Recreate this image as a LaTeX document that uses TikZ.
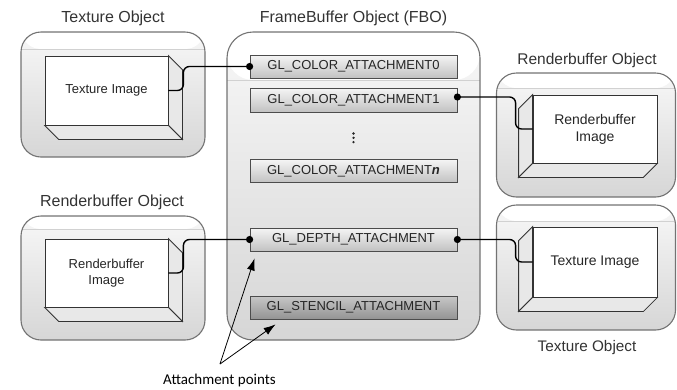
\documentclass[tikz,border=0pt]{standalone}
\usepackage{fontspec}
\setmainfont{Liberation Sans}
\newfontfamily\calfont{Carlito}
\usetikzlibrary{arrows.meta,calc}
\begin{document}
\begin{tikzpicture}[x=1pt,y=-1pt,
  container/.style={draw=black!55, line width=1.1pt, rounded corners=#1,
    top color=black!3, bottom color=black!16, inner sep=0pt},
  glossy/.style={path picture={
    \fill[white] (path picture bounding box.north west) rectangle ([yshift=-#1]path picture bounding box.north east);
    \draw[black!18, line width=0.6pt] ([yshift=-#1]path picture bounding box.north west) -- ([yshift=-#1]path picture bounding box.north east);}},
  title/.style={anchor=base, text=black!80, font=\fontsize{16}{19}\selectfont, inner sep=0pt},
  face/.style={draw=black!80, line width=0.8pt, fill=white, align=center, text=black!85, inner sep=0pt},
  side/.style={draw=black!80, line width=0.8pt, fill=black!9},
  attbox/.style={draw=black!70, line width=0.8pt, top color=black!4, bottom color=black!24,
    minimum width=207pt, minimum height=23pt, inner sep=0pt, text=black!85,
    font=\fontsize{13}{15}\selectfont},
  conn/.style={line width=1.4pt, rounded corners=6pt},
  dot/.style={fill=black},
  pointer/.style={line width=0.8pt, -{Latex[length=12pt,width=8pt]}}
]
\useasboundingbox (0,0) rectangle (677,389);

% containers
\node[container=20pt, glossy=17pt, minimum width=184pt, minimum height=125pt] (texobjL) at (113,94.5) {};
\node[container=20pt, glossy=13pt, minimum width=184pt, minimum height=124pt] (rbobjL) at (113,278) {};
\node[container=26pt, glossy=48pt, minimum width=253pt, minimum height=308pt] (fbo) at (353.5,186) {};
\node[container=20pt, glossy=15pt, minimum width=179pt, minimum height=124pt] (rbobjR) at (586,135) {};
\node[container=20pt, glossy=16pt, minimum width=179pt, minimum height=125pt] (texobjR) at (586,267.5) {};

% titles
\node[title] (tTexL) at (113,22) {Texture Object};
\node[title] (tFbo) at (353.5,22) {FrameBuffer Object (FBO)};
\node[title, font=\fontsize{15.5}{18}\selectfont] (tRbR) at (587,64) {Renderbuffer Object};
\node[title] (tRbL) at (112,206) {Renderbuffer Object};
\node[title, font=\fontsize{15.3}{18}\selectfont] (tTexR) at (587,351) {Texture Object};

% 3D image boxes (left, extruded to lower right)
\node[face, minimum width=123pt, minimum height=69pt, font=\fontsize{13}{15}\selectfont] (teximgL) at (106.5,90.5) {Texture Image};
\filldraw[side] (teximgL.north east) -- ++(14,14) -- ($(teximgL.south east)+(14,14)$) -- (teximgL.south east) -- cycle;
\filldraw[side] (teximgL.south west) -- ++(14,14) -- ($(teximgL.south east)+(14,14)$) -- (teximgL.south east) -- cycle;

\node[face, minimum width=123pt, minimum height=68pt, font=\fontsize{13}{15.5}\selectfont] (rbimgL) at (106.5,273) {Renderbuffer\\Image};
\filldraw[side] (rbimgL.north east) -- ++(14,14) -- ($(rbimgL.south east)+(14,14)$) -- (rbimgL.south east) -- cycle;
\filldraw[side] (rbimgL.south west) -- ++(14,14) -- ($(rbimgL.south east)+(14,14)$) -- (rbimgL.south east) -- cycle;

% 3D image boxes (right, extruded to lower left)
\node[face, minimum width=124pt, minimum height=68pt, font=\fontsize{14}{17}\selectfont] (rbimgR) at (595,129) {Renderbuffer\\Image};
\filldraw[side] (rbimgR.north west) -- ++(-14,14) -- ($(rbimgR.south west)+(-14,14)$) -- (rbimgR.south west) -- cycle;
\filldraw[side] (rbimgR.south west) -- ++(-14,14) -- ($(rbimgR.south east)+(-14,14)$) -- (rbimgR.south east) -- cycle;

\node[face, minimum width=124pt, minimum height=70pt, font=\fontsize{14}{17}\selectfont] (teximgR) at (595,262) {Texture Image};
\filldraw[side] (teximgR.north west) -- ++(-14,14) -- ($(teximgR.south west)+(-14,14)$) -- (teximgR.south west) -- cycle;
\filldraw[side] (teximgR.south west) -- ++(-14,14) -- ($(teximgR.south east)+(-14,14)$) -- (teximgR.south east) -- cycle;

% attachment points
\node[attbox] (att0) at (353.5,66.5) {GL\_COLOR\_ATTACHMENT0};
\node[attbox, minimum height=24pt] (att1) at (353.5,100) {GL\_COLOR\_ATTACHMENT1};
\node[attbox] (attn) at (353.5,171) {GL\_COLOR\_ATTACHMENT\textbf{\textit{n}}};
\node[attbox] (depth) at (353.5,239.5) {GL\_DEPTH\_ATTACHMENT};
\node[attbox, top color=black!22, bottom color=black!42] (stencil) at (353.5,307.5) {GL\_STENCIL\_ATTACHMENT};

% vertical ellipsis
\fill[black!85] (353.5,133.5) circle (1.3) (353.5,137.8) circle (1.3) (353.5,142.1) circle (1.3);

% connectors
\draw[conn] (teximgL.east) -- ++(15,0) |- (att0.west);
\draw[conn] (rbimgL.east) -- ++(15,0) |- (depth.west);
\draw[conn] ([yshift=3pt]att1.east) -| ($(rbimgR.west)+(-17,0)$) -- (rbimgR.west);
\draw[conn] (depth.east) -| ($(teximgR.west)+(-17,0)$) -- (teximgR.west);
\fill[dot] (att0.west) circle (3.6);
\fill[dot] ([yshift=3pt]att1.east) circle (3.6);
\fill[dot] (depth.west) circle (3.6);
\fill[dot] (depth.east) circle (3.6);

% annotation
\node[anchor=base, inner sep=0pt, font=\calfont\fontsize{15}{18}\selectfont] (aplabel) at (219.5,384.5) {Attachment points};
\coordinate (apo) at (220,364);
\coordinate (tip1) at ($(depth.south west)+(5,7)$);
\coordinate (tip2) at ($(stencil.south west)+(26,5)$);
\draw[pointer] (apo) -- (tip1);
\draw[pointer] (apo) -- (tip2);
\end{tikzpicture}
\end{document}
